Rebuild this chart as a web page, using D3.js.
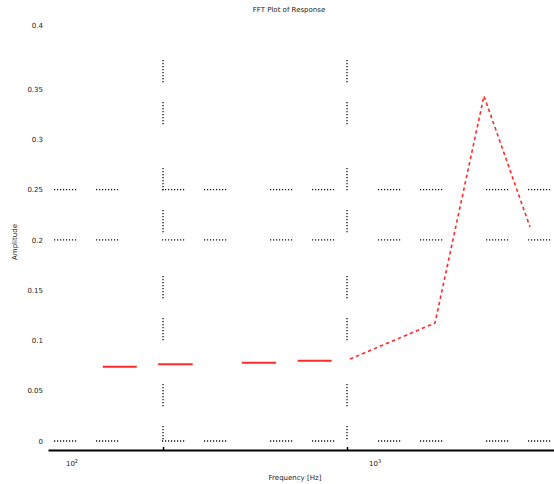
<!DOCTYPE html>
<html>
<head>
<meta charset="utf-8">
<script src="https://cdn.jsdelivr.net/npm/d3@7/dist/d3.min.js"></script>
<style>
  html, body { margin: 0; padding: 0; background: #fff; }
  svg { display: block; }
  text { font-family: "DejaVu Sans", sans-serif; fill: #222; }
</style>
</head>
<body>
<svg id="chart" width="554" height="484"></svg>
<script>
// ---- data ----
const titleText = "FFT Plot of Response";
const xAxisLabel = "Frequency [Hz]";
const yAxisLabel = "Amplitude";

// left series: drawn as separate dashes (start/end pairs)
const dashFreqStart = [47, 94, 268, 539];
const dashFreqEnd   = [72, 145, 411, 825];
const dashValues    = [0.0739, 0.0762, 0.0778, 0.0798];

// right series: dotted line
const lineFreq   = [1038, 3008, 5552, 9876];
const lineValues = [0.0815, 0.1173, 0.343, 0.2127];

// axes / ticks
const yTickValues = [0, 0.05, 0.1, 0.15, 0.2, 0.25, 0.3, 0.35, 0.4136];
const yTickLabels = ["0", "0.05", "0.1", "0.15", "0.2", "0.25", "0.3", "0.35", "0.4"];
const yGridValues = [0, 0.2, 0.25];
const xTickValues = [100, 1000];
const xGridValues = [100, 1000];
const xLabelValues = [32, 1420];
const xLabelBase = ["10", "10"];
const xLabelExp = ["2", "3"];

// ---- drawing ----
const svg = d3.select("#chart");
const x = d3.scaleLog().domain([23.7, 13335]).range([48, 554]);
const y = d3.scaleLinear().domain([0, 0.4136]).range([441, 25]);

// dotted-group dash pattern: 8 dots, gap 18, 8 dots, gap 42 (period 108)
function groupPattern() {
  const dots = d3.range(8).map(() => "1.2 1.8").join(" ");
  return dots + " 0 18 " + dots + " 0 42";
}
const pat = groupPattern();

// horizontal grid
svg.append("g").selectAll("line").data(yGridValues).join("line")
  .attr("x1", 48).attr("x2", 554)
  .attr("y1", d => y(d)).attr("y2", d => y(d))
  .attr("stroke", "#111").attr("stroke-width", 1.3)
  .attr("stroke-dasharray", pat).attr("stroke-dashoffset", 102);

// vertical grid
svg.append("g").selectAll("line").data(xGridValues).join("line")
  .attr("x1", d => x(d)).attr("x2", d => x(d))
  .attr("y1", 22).attr("y2", 441)
  .attr("stroke", "#111").attr("stroke-width", 1.3)
  .attr("stroke-dasharray", pat).attr("stroke-dashoffset", 70);

// x axis
const xAxis = d3.axisBottom(x).tickValues(xTickValues).tickFormat("").tickSizeInner(-3).tickSizeOuter(0);
const gx = svg.append("g").attr("transform", "translate(0,450)").call(xAxis);
gx.select(".domain").attr("stroke", "#000").attr("stroke-width", 2);
gx.selectAll(".tick line").attr("stroke", "#000").attr("stroke-width", 1.5);

// x tick labels with superscripts
const xl = svg.append("g").selectAll("text").data(xLabelValues).join("text")
  .attr("x", d => x(d)).attr("y", 466)
  .attr("text-anchor", "middle").attr("font-size", 7);
xl.append("tspan").text((d, i) => xLabelBase[i]);
xl.append("tspan").attr("dy", -3).attr("font-size", 5).text((d, i) => xLabelExp[i]);

// y axis labels (no axis line)
const yAxis = d3.axisLeft(y).tickValues(yTickValues)
  .tickFormat((d, i) => yTickLabels[i]).tickSize(0).tickPadding(0);
const gy = svg.append("g").attr("transform", "translate(43,0)").call(yAxis);
gy.select(".domain").remove();
gy.selectAll("text").attr("font-size", 7).attr("font-family", "DejaVu Sans, sans-serif").attr("fill", "#333");

// left dashed series
svg.append("g").selectAll("line").data(dashValues).join("line")
  .attr("x1", (d, i) => x(dashFreqStart[i])).attr("x2", (d, i) => x(dashFreqEnd[i]))
  .attr("y1", d => y(d)).attr("y2", d => y(d))
  .attr("stroke", "#ff2a2a").attr("stroke-width", 2);

// right dotted series
const pts = lineFreq.map((f, i) => [f, lineValues[i]]);
svg.append("path").datum(pts)
  .attr("d", d3.line().x(d => x(d[0])).y(d => y(d[1])))
  .attr("fill", "none").attr("stroke", "#ff2a2a").attr("stroke-width", 1.6)
  .attr("stroke-dasharray", "3.5 3");

// title and axis titles
svg.append("text").attr("x", 289).attr("y", 12).attr("text-anchor", "middle")
  .attr("font-size", 7).text(titleText);
svg.append("text").attr("x", 295).attr("y", 480).attr("text-anchor", "middle")
  .attr("font-size", 7).text(xAxisLabel);
svg.append("text").attr("transform", "translate(17,242) rotate(-90)")
  .attr("text-anchor", "middle").attr("font-size", 7).text(yAxisLabel);
</script>
</body>
</html>
